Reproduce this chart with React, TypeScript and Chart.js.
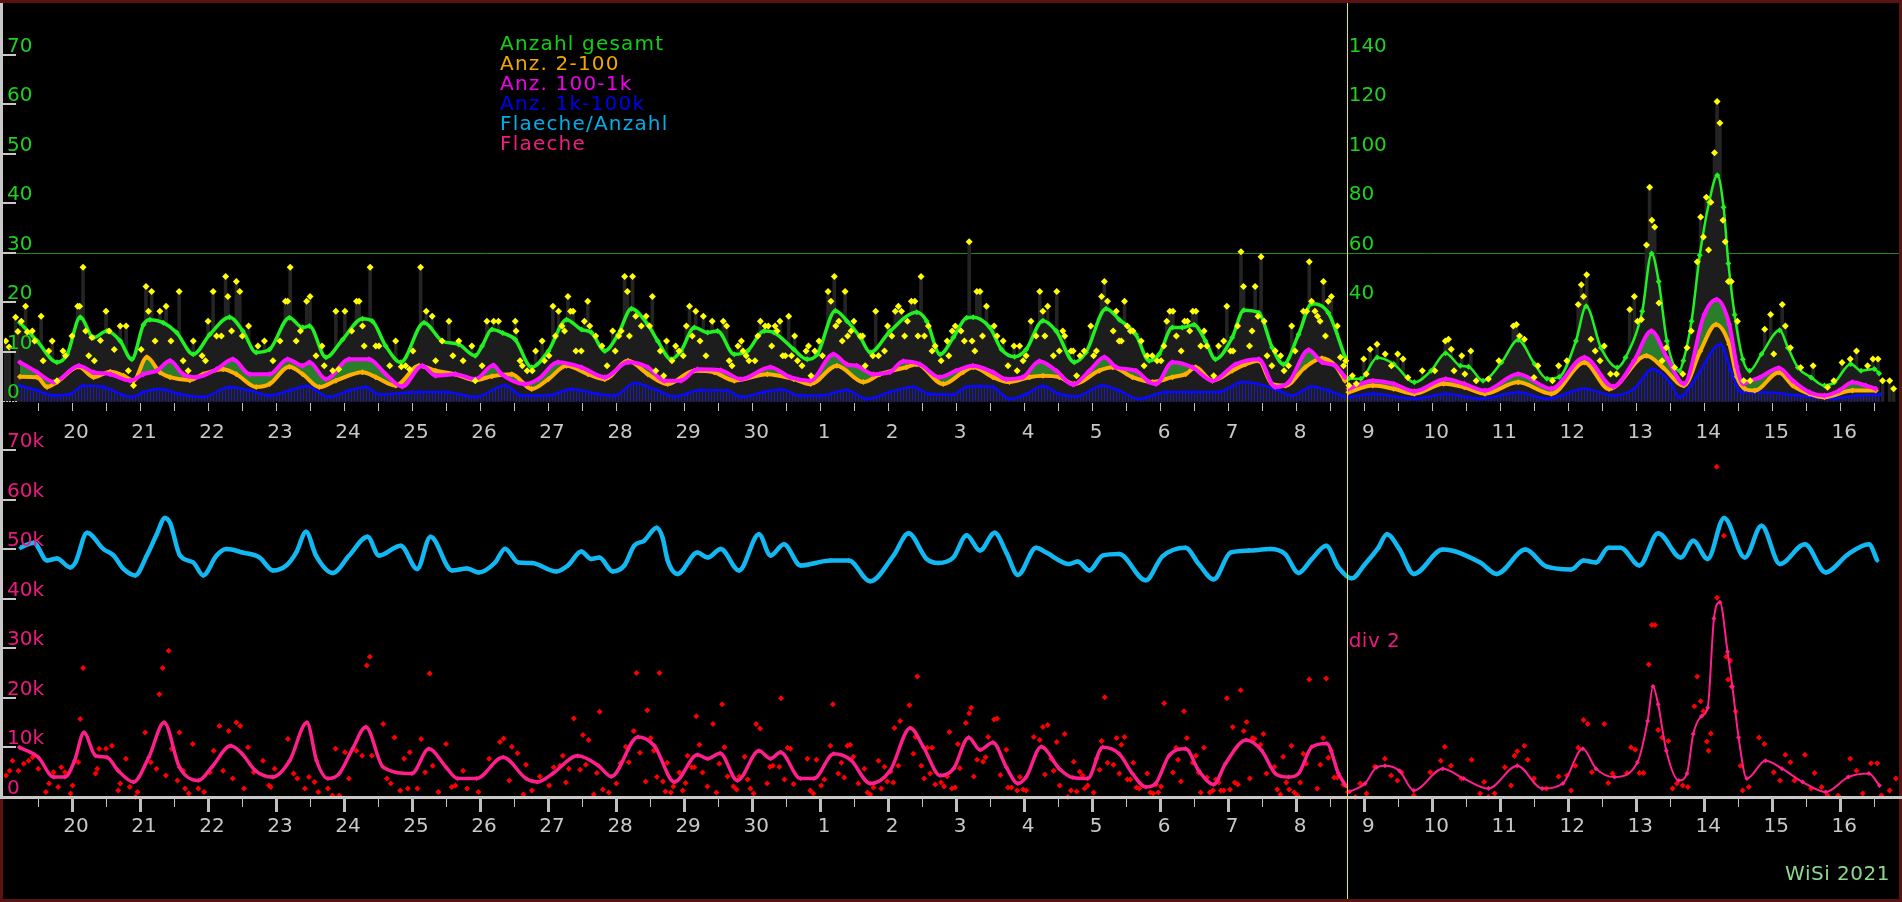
import React, { useEffect, useRef } from "react";
import { Chart, registerables } from "chart.js";

Chart.register(...registerables);

type P = [number, number];

// x values are hours since the 19th 00:00
const dayLabels = ["20","21","22","23","24","25","26","27","28","29","30","1","2","3","4","5","6","7","8","9","10","11","12","13","14","15","16"];
const splitHour = 473.8;
const leftTopTicks = [0, 10, 20, 30, 40, 50, 60, 70];
const rightTopTicks = [40, 60, 80, 100, 120, 140];
const bottomTicks = [0, 10, 20, 30, 40, 50, 60, 70];
const legendItems: [string, string][] = [
  ["Anzahl gesamt", "#10d010"],
  ["Anz. 2-100", "#f0a800"],
  ["Anz. 100-1k", "#ee00ee"],
  ["Anz. 1k-100k", "#0000f0"],
  ["Flaeche/Anzahl", "#00aeea"],
  ["Flaeche", "#f01e7e"],
];

// ---- Anzahl gesamt (smoothed) ----
const totalLeft: P[] = [[5.6,15.9],[11.7,12.2],[18.7,7.9],[22.3,9.5],[26.9,17],[31.6,12.9],[36.3,14.2],[41,12.2],[45.1,8.5],[49.2,15.5],[51.5,16.5],[56.2,15.9],[60.9,13.9],[66.8,9.5],[72.6,13.5],[79.6,17],[84.3,14.2],[89,9.9],[93.7,10.5],[100.7,16.9],[105.4,14.9],[107.8,15.2],[113.6,8.9],[119.5,12.5],[126.5,16.7],[130,16.2],[134.7,11.2],[140,7.9],[148.2,15.9],[154.6,12.2],[160.5,11.5],[166.3,9.2],[168.7,11.2],[172.2,14.5],[176,13.8],[180.4,12.5],[186.2,6.9],[192.1,10.2],[198.5,16.5],[203.8,14.5],[207.3,13.9],[212,10.2],[216.7,13.5],[221.4,18.7],[227.2,15.5],[230.7,12.2],[235.4,8.5],[238.9,10.2],[243.6,14.9],[248.3,13.9],[251.8,14.2],[257.7,9.5],[262.4,10.2],[268.2,14.2],[271.7,13.9],[278.7,10.5],[283.4,8.5],[287,9.5],[293.4,18.3],[297.5,16.2],[302.2,12.9],[305.7,9.9],[312.7,14.2],[322.1,18],[325.6,16.2],[330.3,9.5],[335,12.9],[339.7,16.9],[342,17],[347.9,14.9],[352,10.5],[356.6,9],[360.7,10.5],[366.6,16.3],[371.3,14.2],[377.7,7.9],[381.8,9.9],[388.9,18.7],[393.6,16.5],[399.4,13.5],[404.1,8.2],[407.6,9.5],[412.3,14.9],[415.8,14.9],[419.9,15.5],[424,12.2],[427.5,8.5],[433.4,12.9],[437.5,18.4],[442.8,17.9],[447.5,10.9],[451.5,7.5],[456.8,13.5],[461.5,19.7],[467.3,17.9],[473.2,9]];
const totalRight: P[] = [[474.4,9.2],[478.8,9.2],[484.6,17.7],[490.4,15.1],[497.7,7.7],[503.6,12.4],[508.7,19.5],[513.9,14.4],[516.8,14],[521.9,8.4],[528.4,15.7],[534.3,24.8],[540.1,15.1],[544.5,9.2],[548.8,9.9],[554.7,24.4],[558.3,38.4],[563.5,21.7],[569.3,13.7],[572.2,17.7],[578.1,36.4],[581.4,59.7],[583.9,48.4],[586.8,24.4],[591.2,12.4],[592.6,16.4],[595.5,32.4],[598.4,59],[601.7,80.4],[604.6,91.3],[606.8,78.4],[608.5,55.7],[610.7,35],[613.6,17],[616,12.4],[620.2,19.1],[626.6,28.7],[629.5,21.7],[633,13.7],[637.7,9.7],[642.4,6.4],[645.9,7.7],[651.7,15.1],[655.3,12.4],[660,13.1],[661.7,11.3]];

// ---- Anz. 2-100 ----
const a2Left: P[] = [[5.6,5],[11.7,4.9],[15.2,2.9],[18.7,3.9],[26.4,7],[31.6,4.9],[37.5,6],[42.2,5.2],[45.7,4.2],[50.4,8.9],[55,5.9],[58.6,4.9],[65.6,4.3],[70.3,5.5],[77.3,6.5],[82,5.5],[89,2.9],[93.7,3.5],[100.7,7],[105.4,5.5],[111.3,2.9],[117.1,4.2],[126.5,5.9],[131.2,4.9],[138.2,3.2],[146.4,7.2],[152.3,6.2],[159.3,5.5],[166.3,4.3],[172.2,5.1],[179.2,5.5],[186.2,2.5],[192.1,4.5],[198.5,7.2],[206.1,5.5],[212,4.5],[220.2,8.2],[227.2,5.5],[234.2,3.5],[243.6,6.2],[250.6,5.9],[257.7,4.2],[269.4,5.5],[278.7,4.5],[284.6,3.5],[293.9,7.2],[303.3,3.9],[309.1,5.5],[318.5,6.9],[322.1,7.5],[331.4,3.5],[338.4,5.9],[342,6.9],[349,4.9],[354.8,3.9],[361.9,4.9],[366.6,5.2],[372.4,4.9],[377.7,3.5],[386.5,6.2],[391.2,6.9],[398.2,4.9],[405.2,3.9],[412.3,4.9],[417,5.5],[420.5,6.9],[426.4,4.2],[433.4,6.2],[438.1,7.5],[442.8,8.2],[447.5,3.5],[452.2,3.2],[459.2,6.9],[465.1,8.7],[469.8,7.2],[473.2,4.2]];
const a2Right: P[] = [[474.4,3.7],[483,6.4],[490.4,5.1],[497.7,3.1],[508,7.1],[515.3,5.7],[522.6,3.1],[534.3,7.7],[546,3.1],[557.7,15.7],[566.4,5],[579.6,18.4],[585.4,13.7],[592.8,6.4],[598.6,20.4],[604.1,31.1],[608.8,23.1],[611.5,10],[614.3,5.1],[617.8,4.4],[626.3,11.7],[631.2,6.4],[637.1,3.1],[642.4,1.7],[652.3,4.4],[660.5,4.4]];

// ---- Anz. 100-1k ----
const a100Left: P[] = [[5.6,7.9],[11.7,5.9],[17.6,3.9],[26.4,7.2],[31.6,5.9],[37.5,5.5],[44.5,4.2],[49.2,5.5],[53.9,6.2],[58.6,8.2],[63.2,5.5],[67.9,4.9],[75,6.5],[80.8,8.5],[86.7,5.5],[93.7,5.5],[100.1,8.5],[105.4,7.2],[107.8,7.9],[113.6,4.5],[121.8,8.5],[128.8,8.5],[134.7,5.5],[140.5,3],[147.6,7.2],[152.3,5.2],[159.3,5.5],[166.3,4.5],[172.7,7.3],[175.6,5.5],[183.8,3.5],[188.5,4.5],[195.5,7.9],[203.7,6.9],[212,4.9],[220.2,7.9],[227.2,6.9],[233,4.2],[238.9,4.2],[244.7,6.5],[252.9,6.3],[260,4.5],[270.4,6.9],[277.4,4.9],[284.5,4.2],[292.7,9.5],[297.4,7.5],[300.9,7.2],[306.8,5.5],[312.6,5.9],[317.3,8.1],[323.2,7.5],[330.2,4.9],[336,6.2],[341.9,7.2],[349,5.9],[353.7,4.5],[359.5,4.9],[365.4,8.1],[371.3,6.2],[377.2,3.4],[383,6.2],[388.3,8.9],[392.5,6.9],[399.4,6.2],[404.1,3.9],[406.5,3.5],[412.3,7.9],[419.3,6.9],[426.4,4.2],[434.6,7.5],[442.8,8.5],[448.6,2.9],[453.4,3.9],[460.4,10.4],[465.1,7.9],[469.8,7.2],[473.2,4.9]];
const a100Right: P[] = [[474.4,5.1],[483,8.4],[490.4,7.1],[497.7,4.1],[508.7,9.1],[515.3,7.1],[522.6,4.4],[534.3,11.1],[546,5.1],[557.7,17.7],[567.9,6],[575.2,16.4],[581.3,28.4],[586.8,17.7],[592.8,7.1],[600,35.1],[604.4,41.1],[608.8,31.1],[611.5,14],[613.7,7.1],[614.9,7.7],[619.6,9.7],[626.3,13.5],[631.2,8.4],[637.1,3.7],[642.4,2.4],[647.6,4.4],[652.3,7.7],[657,6.4],[660.5,5.1]];

// ---- Anz. 1k-100k ----
const a1kLeft: P[] = [[5.6,3.2],[11.7,2.2],[17.6,1.2],[23.4,1.5],[28.1,3.2],[35.1,2.9],[45.1,0.9],[49.2,1.9],[55,2.5],[62.1,1.5],[70.3,0.9],[79.6,2.9],[86.7,2.2],[93.7,1.2],[100.7,2.2],[106.6,3.1],[114.8,0.9],[121.8,2.2],[127.7,2.9],[132.3,1.4],[146.4,1.9],[155.8,1.9],[166.3,0.9],[176.8,3.2],[182.7,1.2],[192.1,1.2],[200.3,2.5],[209.7,1.5],[215.5,1.2],[222.5,3.7],[230.7,2.2],[236.6,1],[246,2.3],[255.4,2.2],[260,0.9],[268.2,1.9],[274.1,2.4],[281.1,1.2],[288.2,1.2],[297.4,2.3],[304.4,0.5],[312.6,1.9],[320.8,2.9],[326.6,1.5],[334.8,1.4],[339.5,2.9],[344.3,3.1],[349,2.9],[354.8,0.5],[360.7,1.5],[366.6,3.1],[372.4,1.5],[378.3,1],[387.6,3.2],[393.5,2.2],[400.5,0.5],[409.9,1.9],[419.3,1.9],[428.6,1.9],[436.9,3.9],[442.8,3.5],[449.8,2.2],[454.5,1.2],[461.6,3],[467.4,2.2],[473.2,0.9]];
const a1kRight: P[] = [[474.4,1.7],[483,3.1],[497.7,1.1],[508.7,3.1],[521.1,1.1],[534.3,3.7],[544.5,1.1],[557.7,5.1],[567.9,2.4],[575.2,5.1],[581.7,13.1],[588.3,7.1],[591.2,1.7],[597.1,9.7],[605.7,23.1],[609.4,12.4],[613,3.7],[621.2,3.7],[633,2.4],[644.7,1.1],[654.1,2.4],[662.3,2.8]];

// ---- Anzahl gesamt (raw hourly) ----
const rawLeft: P[] = [[0.6,12.2],[1.8,11],[4.1,17],[4.9,14.1],[6.1,16.2],[7.6,19.2],[8.2,14],[10,14.2],[10.8,12.2],[13.1,17.2],[13.8,8.2],[15.8,10.2],[17,12.2],[18.7,4.2],[20.8,10.2],[21.7,9.2],[24,13.2],[26,19.2],[26.7,19.2],[27.9,27.1],[28.8,14.2],[29.9,9.2],[31,12.9],[31.9,8.2],[34,12.3],[36,18.2],[37.1,14.2],[38.9,10.5],[41,15.2],[43.1,15.2],[43.9,6.2],[45.7,3.2],[48.4,10.5],[50.1,23.2],[51,18.2],[52.1,22.2],[53.3,12.2],[55,18.2],[57.2,19.2],[58.9,12.2],[61.8,22.2],[63.2,8.2],[65,6.2],[66.8,12.2],[69.9,9.2],[71.1,8.2],[72,16.2],[73.8,22.2],[75,13.2],[76.7,13.2],[78.2,25.2],[79,21.2],[80.3,14.2],[82,24.2],[83.2,22.2],[84.1,13.2],[86.3,15.2],[89.6,11.2],[91.9,12.2],[94.9,8.2],[97.4,12.2],[99.3,20.2],[100.1,20.2],[101,27.1],[103.1,12.2],[104.6,14.2],[106.8,20.2],[108,21.2],[110.1,9.2],[112.2,11.2],[113,7.2],[116,6.2],[117.1,18.2],[118.1,6.5],[120.3,18.2],[122.7,14.2],[124.4,20.2],[125.3,20.2],[126.5,15.2],[127.1,11.2],[129.2,27.1],[131.2,11.2],[132.3,11.2],[136.1,7.2],[138.2,12.2],[140.2,7],[141.7,7.2],[143.1,6.5],[144.3,10.2],[147,27.1],[149,18.2],[151.1,17.2],[152.3,8.2],[154.6,12.2],[157,16.2],[158.4,9.2],[160.5,12.2],[162,8.2],[165.1,11.2],[166.3,4.2],[168.7,7.2],[170.4,16.2],[172.8,16.2],[174.5,16.2],[180.4,16.2],[180.7,14.2],[182.1,8.2],[182.9,7.2],[184.6,6.2],[186.4,6.2],[187.6,10.2],[189.9,12.2],[190.7,8.2],[192.3,9.2],[193.7,19.2],[194.6,13.2],[195.7,18.2],[196.9,15.2],[197.8,14.2],[199,21.2],[199.9,18.2],[200.8,18.2],[201.8,10.2],[203.7,10.2],[204.8,16.2],[206,20.2],[206.7,15.2],[208.8,13.2],[211,11.2],[212.8,7.2],[214.8,14.2],[215.7,10.2],[216.9,13.2],[217.8,14.2],[219,25.2],[220,22.2],[220.7,13.2],[221.8,25.2],[222.9,17.2],[224.9,15.2],[226.6,17.2],[227.8,15.2],[228.8,21.2],[230,6.2],[231.6,10.2],[232.8,5.2],[233.8,12.2],[235.7,8.2],[237,11.2],[238.2,10.2],[239.7,9.2],[240.8,15.2],[241.9,19.2],[242.9,13.2],[244.1,18.2],[245.6,12.2],[246.8,17.2],[247.7,9.2],[249.9,16.2],[253.8,16.2],[255,15.2],[255.9,8.2],[256.9,7.2],[259,11.2],[260.2,12.2],[260.8,10.2],[261.9,9.2],[262.9,8.2],[265,8.2],[266,13.2],[266.9,16.2],[268.6,15.2],[269.7,15.2],[270.9,11.2],[272.1,15.2],[272.8,14.2],[273.8,16.2],[274.8,9.2],[275.7,9.2],[276.9,17.2],[277.9,9.2],[279,13.2],[280,8.2],[281.6,7.2],[283,10.2],[283.9,11.2],[284.8,5.2],[286.1,10.2],[287.6,12.2],[288.8,9.2],[290.8,22.2],[291.8,20.2],[293,25.2],[293.5,15.2],[294.6,16.2],[295.8,12.2],[296.8,22.2],[297.7,13.2],[298.9,14.2],[299.9,16.2],[302.2,13.2],[303,13.2],[303.9,7.2],[306.6,9.2],[307.6,18.2],[308.6,9.2],[310.7,10.2],[311.8,15.2],[313.3,13.2],[314.5,18.2],[315.6,19.2],[316.7,18.2],[317.8,13.2],[318.8,16.2],[320.2,20.2],[321.4,20.2],[322.5,13.2],[323.6,25.2],[324.8,13.2],[326.2,15.2],[327.5,10.2],[328.6,11.2],[330.7,8.2],[332.8,12.2],[333.4,9.2],[334.6,14.2],[335.7,15.2],[337.7,14.2],[338.9,12.2],[340.6,32.2],[341.6,12.2],[342.6,10.2],[343.3,22.2],[344.4,22.2],[345.3,13.2],[346.7,19.2],[349.4,15.2],[350.4,13.2],[352.6,12.2],[354.3,7.2],[356.4,11.2],[357.5,6.2],[358.4,11.2],[359.6,8.2],[360.7,9.2],[362.4,16.2],[364.2,13.2],[365.5,22.2],[366.6,18.2],[367.3,13.2],[368.3,19.2],[370.3,9.2],[371.5,22.2],[372.4,10.2],[373.6,14.2],[374.3,13.2],[376.5,10.2],[377.3,10.2],[378.5,5.2],[379.7,9.2],[381.2,10.2],[383.5,15.2],[384.5,9.2],[385.5,10.2],[387.3,21.2],[388.3,24.2],[389.4,20.2],[391.4,14.2],[392.5,18.2],[393.5,12.2],[394.3,12.2],[395.4,20.2],[396.4,15.2],[397.5,14.2],[398.4,14.2],[401.3,12.2],[402.3,7.2],[403.4,9.2],[405.2,9.2],[406.9,8.2],[408.3,8.2],[409.3,11.2],[410.3,16.2],[411.4,18.2],[412.5,18.2],[413.7,13.2],[415.4,10.2],[416.6,16.2],[417.6,16.2],[418.4,14.2],[419.5,18.2],[420.6,18.2],[422.3,11.2],[423.5,14.2],[424.5,11.2],[426.9,5.2],[428.6,11.2],[430.4,12.2],[431.5,19.2],[432.8,10.2],[433.7,10.2],[435.3,15.2],[436.5,30.2],[437.4,23.2],[439.5,11.2],[440.4,14.2],[441.5,23.2],[442.5,17.2],[443.6,29.2],[444.7,16.2],[445.7,9.2],[447.4,7.2],[448.6,10.2],[450.5,9.2],[451.7,6.2],[453.3,7.2],[454.4,15.2],[455.6,10.2],[458.5,18.2],[459.7,18.2],[460.6,28.2],[461.4,20.2],[462.6,18.2],[463.5,17.2],[464.4,16.2],[465.6,24.2],[466.3,13.2],[467.3,20.2],[468.4,21.2],[470.5,15.2],[471.6,8.9],[472.7,7.2],[473.5,8.2]];
const rawRight: P[] = [[474.6,6.4],[475.8,10.4],[477.2,7.1],[479.8,17.1],[480.7,11.1],[482.1,21.1],[484.5,23.1],[487.4,19.1],[489.6,14.4],[491.8,19.1],[493.7,17.1],[495.4,9.7],[500.5,12.4],[504.9,12.4],[508.6,24.4],[509.7,25.1],[510.7,21.1],[511.7,12.4],[514.4,18.4],[515.5,11.1],[517.6,20.4],[519.5,8.4],[523.8,9.1],[527.5,16.4],[532.6,30.4],[533.7,31.1],[534.8,26.4],[536.5,25.1],[539.9,9.7],[541.3,14.4],[546.4,8.4],[548.6,14.4],[551.5,16.4],[555.5,39.1],[556.6,47.1],[557.4,42.4],[558.5,51.1],[560,25.1],[561.5,20.4],[563.2,16.4],[564.7,22.4],[566.9,11.1],[569,11.1],[573.7,37.1],[575.3,42.4],[576.4,32.4],[577.8,33.1],[579.6,63.1],[580.7,86.4],[581.5,73.1],[582.5,70.4],[584,39.7],[585.1,16.4],[586.6,21.7],[589.5,13.7],[592.4,11.1],[593.9,21.7],[595.4,28.4],[597.5,56.4],[598.7,74.4],[599.7,66.4],[600.7,82.4],[601.5,61.1],[602.3,80.4],[603.6,100.4],[604.5,121.1],[605.5,112.4],[606.6,73.1],[607.4,64.4],[608.5,48.4],[609.5,48.4],[611.7,32.4],[613.9,8.4],[616.2,8.4],[621.3,29.1],[623.4,35.1],[624.5,19.1],[627.5,39.1],[628.6,30.4],[630.4,21.7],[634,13.7],[638.4,14.4],[643.5,5.7],[645.7,8.4],[648.6,15.7],[651.5,17.1],[653.7,20.4],[657.6,14.4],[659.5,17.1],[661.3,17.1],[662.9,8.4],[665.4,8.4],[666.8,5.1]];

// ---- Flaeche/Anzahl (thousands) ----
const areaPerCount: P[] = [[5.9,50.3],[10.5,51.3],[15.2,47.7],[18.7,48.1],[23.4,46.3],[25.2,47.3],[29.3,53.3],[35.1,50],[38.7,48.7],[42.2,46],[46.3,44.7],[50.4,48.7],[53.9,53],[56.8,56.3],[58.6,55.3],[62.1,48.7],[66.8,47.3],[70.3,44.7],[75,48.7],[78.5,50],[84.3,49.3],[90.2,48.3],[94.9,45.7],[99.6,46.7],[103.1,49.3],[106.6,53.5],[110.1,48.7],[116,45.2],[121.8,48.7],[128.3,52.5],[132.3,48.7],[140,50.7],[145.8,46],[150.5,52.5],[158.1,45.7],[163.4,46.1],[167.5,45.3],[173.3,47.3],[176.8,50.1],[181.5,47.3],[186.2,47.2],[194.9,45.5],[199,46.7],[203.7,49.5],[207.2,48],[210.1,48.3],[214.8,45.5],[218.9,46.7],[222.4,50.7],[225.9,51.7],[230.3,54.3],[232.4,52.3],[234.2,47.7],[237.7,45],[244.7,49.3],[248.3,48.3],[252.9,50],[259.4,45.7],[266.4,53],[270.5,48.7],[275.2,51],[281.1,46.7],[291.7,47.7],[298.1,47.7],[305.7,43.5],[313.9,48.7],[319.2,53.2],[325.6,48],[329.7,47.2],[335,48.3],[339.7,52.8],[344.4,49.7],[349.6,53.3],[353.7,49.3],[357.8,44.8],[364.2,50.3],[367.8,49.3],[375.9,47],[378.9,47.5],[383,45.7],[387.7,48.7],[393.5,49],[402.9,43.7],[408.7,48.5],[416.9,50.3],[421.6,47],[426.9,43.9],[432.8,49.3],[439.2,49.7],[446.8,50],[452.1,49],[456.8,45.2],[461.5,48],[466.6,50.7],[470.9,46.3],[475.6,44.1],[480.3,47],[485,50.3],[488,53],[492.4,50],[497.5,45],[507.7,49.9],[520.9,47.3],[526.7,45],[536.9,49.9],[544.2,46.5],[553,45.9],[557.4,47.7],[561.8,47.3],[566.1,50.3],[570.5,50.3],[577.1,46.7],[583.7,53.2],[591.7,48.3],[596.1,51.7],[601.2,48],[607,56.3],[614.3,48.3],[620.2,54.7],[626.7,47],[635.5,51],[642.8,45.3],[650.8,49],[658.1,51],[661,47.7]];

// ---- Flaeche smoothed (thousands); right part shown div 2 ----
const areaLeft: P[] = [[5.4,10],[12.1,8],[17.5,4],[21.5,4],[24.9,7.3],[28.2,13],[32.3,8.3],[36.3,8],[40.3,5.3],[45.7,3],[51.1,8],[56.5,15],[61.9,6],[68.6,3.3],[73.3,6],[80,10.3],[84,8.7],[88.7,5.3],[94.8,4],[100.8,7.3],[106.9,15],[110.3,7.3],[114.3,3.7],[118.3,4.7],[123,9.7],[127.7,14.1],[133.8,6],[143.9,4.7],[149.9,9.7],[156,6],[160,3.7],[166.7,3.7],[176.1,8],[184.2,3.7],[188.2,3],[193.6,4.7],[202.4,8.3],[209.8,6.3],[214.3,4.1],[223.7,12.1],[229.5,10.3],[236.6,3],[244.7,8.5],[248.3,7.7],[252.7,8.8],[258.8,3.3],[266.4,9.3],[270.5,7.7],[274,9],[281.1,3.7],[285.8,3.7],[292.8,8.7],[298.7,7.5],[305.7,2.7],[312.7,5.3],[319.8,13.9],[324.5,10],[330.4,4.3],[335.1,5.7],[340.4,12],[344.4,9.5],[349,11],[353.7,6],[357.8,2.7],[360.7,4],[366,10.1],[372.4,5.7],[377.1,3.9],[382.4,3.7],[387.7,10],[393.5,8.7],[398.2,4.7],[402.9,2],[406.4,2.7],[411.1,8.3],[417,9.7],[421.6,5.3],[426.9,2.5],[431,6.7],[438.3,11.5],[443.9,9.3],[448.6,4.7],[453.3,4],[456.8,4.7],[461.5,10.1],[466.8,10.8],[470.9,4.7],[473.6,2.2]];
const areaRightDiv2: P[] = [[474.9,1.1],[480.3,2.7],[484.4,6],[487.3,6.3],[492.4,5.3],[497.5,1.3],[507.7,5.7],[515.1,3.7],[523.8,1.7],[534,6.3],[542.8,1.7],[550.1,2.7],[557.1,9.7],[561.8,5.7],[568.3,4],[576.4,7],[580,15.3],[581.9,22.3],[583.7,18.7],[586.6,9.3],[591,3.3],[593.9,4.7],[596.1,12.7],[599,16.3],[601.2,18],[603.4,36],[605.5,39.3],[608.2,29.3],[609.9,22.3],[612.1,12],[615,3.7],[621.6,7.3],[627.4,5.7],[634.7,3],[642.8,1],[650.8,4],[658.1,4.7],[661.8,2.3]];

// ---- Flaeche raw (thousands); right part div 2 ----
const areaRawLeft: P[] = [[0.7,4.3],[2,5.3],[3,7.3],[5.1,5.3],[7,6.7],[8.7,7.3],[10.1,8],[12.1,5.7],[14.8,1],[15.9,2.7],[17.5,5],[19.1,2],[20.2,6],[21.5,5],[23.5,0.7],[24.2,2.3],[26.2,7],[26.9,15.7],[27.9,26],[32.3,4.7],[32.9,5.7],[33.6,9.7],[36,9.7],[38.1,10.3],[40.3,1.3],[41,2.7],[43,7.7],[44.4,2],[46.4,0],[47.1,1],[49.8,13],[51.8,7],[53.8,5.7],[54.8,20.7],[56,26],[57.1,4.3],[58.1,29.5],[59.2,9.7],[61.2,3.3],[61.9,13],[63.2,5.3],[63.9,1.7],[65.2,0.7],[66.6,10.7],[68.6,1.7],[70.6,1],[72.6,5],[74,9.3],[76,14.3],[77.3,5.3],[79.3,13.3],[80.7,3.7],[82,15],[83.4,14.3],[84.7,1.7],[86.1,10],[88.1,5],[91.4,7.3],[93.5,2.3],[94.1,2],[95.5,5.7],[100.2,11.7],[102.2,4.7],[103.5,3.7],[106.2,1.7],[107.6,4],[109.6,3],[110.9,1],[114.3,1.7],[115.9,0.3],[117,9.7],[118.3,0.3],[120.3,9],[121.7,3.7],[124.4,9.3],[126.4,8.3],[128,26.5],[129.1,28.3],[129.8,8.3],[133.8,14.7],[135.1,3.7],[136.5,2.7],[137.8,12],[139.8,1.3],[141.2,7.7],[142.5,1.7],[143.2,9],[145.9,1.7],[147.2,11.7],[148.6,5],[150.2,24.9],[151.3,6.3],[153.3,1],[156,10.7],[158,2],[159.3,2.3],[162,5.3],[163.4,1.7],[167.4,1],[171.2,7.7],[175,11.1],[176.3,11.8],[178.3,3.3],[179.2,10.1],[181.2,8.8],[183.3,0.5],[184.2,6.5],[186.3,1.3],[189.1,4.1],[192.4,2.3],[194,6],[196.2,6.3],[197.2,8.3],[198.3,2.9],[199.3,5.7],[201.1,15.8],[203.3,5.5],[204.3,12.5],[205.3,6.5],[206.3,11.5],[208.1,0.5],[209.2,4.8],[210.2,17.2],[211.3,1.5],[213.4,0.9],[216.1,2.7],[217.5,6.8],[219.4,10.1],[220.5,7],[222.2,13.3],[223.2,25],[224.4,8.9],[226.4,3.1],[227,17.5],[228.2,11.9],[229.3,9.3],[230.4,4],[231.3,25],[232.5,3.1],[233.4,1.1],[234,6.9],[235.3,0.9],[236.2,2.1],[238.3,4.9],[239.5,1.3],[240.5,2.8],[241.2,8.3],[242.7,6],[243.6,6],[244.3,16.3],[245.4,10.5],[246.5,4.9],[248.2,2.1],[250.2,14.7],[251.4,0.9],[252.4,6.7],[253.4,18.7],[254.2,10],[255.3,4.1],[257.4,2.1],[258.5,1.5],[259.5,4.1],[261.3,8.1],[262.4,3.5],[263.4,1.7],[264.5,0.7],[265.4,14.7],[266.8,13.8],[269.3,2.7],[270.3,6.1],[271.3,6.3],[273.6,6.1],[274.2,19.9],[275.4,3.5],[276.5,9.9],[277.5,9.7],[278.6,2.6],[283.5,7.7],[284.5,1.3],[285.6,0.7],[286.7,7.5],[288.4,2.3],[289.5,3.5],[291.6,10.3],[292.5,18.7],[294.4,4.7],[295.5,6.9],[296.5,3.9],[297.6,10.3],[298.6,10.5],[299.7,8.1],[301.5,2.7],[303.6,5.7],[304.7,0.9],[305.7,0.5],[306.8,1.9],[308.6,7.3],[309.6,1.7],[310.7,6.1],[311.7,3.1],[312.8,5.1],[313.8,2.9],[314.2,13.9],[315.6,6.3],[316.2,15.3],[319.5,18.5],[320.9,8.7],[321.6,12.1],[322.3,24.3],[323.7,6.3],[324.7,3.7],[325.8,9.9],[326.8,4.7],[327.5,9.9],[328.6,2.5],[330.7,2.9],[331.7,2.1],[332.8,4.1],[333.6,13.1],[334.5,1.7],[335.6,1.9],[336.6,10.7],[337.3,5.8],[339.4,14.9],[340.6,16.9],[341.3,18],[342.2,4.1],[343.4,7.5],[345.5,7.1],[346.4,8],[347.3,12.1],[349.4,15.6],[350.4,15.8],[351.6,4.4],[353.7,9.5],[354.3,1.9],[355.5,1.9],[357.5,1.3],[358.5,4],[359.6,1.5],[360.7,1.3],[363.4,12.1],[365.5,11.5],[366.6,14.1],[367.3,4.5],[368.3,14.5],[369.5,7.7],[370.4,5.3],[371.5,11.1],[372.5,2.3],[374.3,12.7],[375.4,0],[376.5,1.3],[377.5,7.1],[378.5,1.1],[379.6,5.1],[380.6,4.3],[381.3,1.7],[382.4,2.3],[384.5,0.9],[385.5,7.7],[386.6,5.5],[387.3,11.3],[388.4,20.1],[389.4,6.9],[391.5,6.5],[392.6,11.9],[393.6,4.7],[394.3,10.5],[395.4,12.1],[396.4,3.5],[397.5,3.5],[398.5,6.9],[399.6,1.9],[400.6,1.7],[403.4,4.7],[404.5,0.9],[405.5,0.7],[406.5,2.5],[407.3,0.9],[408.3,2.1],[409.4,18.9],[412.5,4.9],[413.6,9.9],[414.3,7.5],[415.3,3.1],[416.4,17.3],[417.4,11.9],[419.5,6.9],[420.6,8.3],[421.6,4.9],[422.3,0.9],[423.4,9.9],[424.5,3.9],[425.5,0.9],[426.6,1.3],[427.6,3.5],[428.7,2.9],[429.4,1.3],[430.4,1.3],[431.5,19.9],[432.6,1.5],[433.6,14.1],[434.3,2.9],[435.4,2.5],[436.4,21.5],[437.5,13.3],[438.5,15.1],[439.6,3.7],[440.6,11.9],[441.3,11.7],[443.4,10.5],[444.4,12.7],[445.5,4.7],[448.3,6.1],[449.3,1.5],[450.4,0.5],[451.4,8.1],[452.5,2.9],[453.5,1.5],[454.3,10.3],[455.3,0.9],[456.4,0.3],[457.4,2.9],[458.5,8.7],[459.5,6.7],[460.6,23.7],[463.4,1.7],[464.5,6.5],[465.5,11.9],[466.6,23.9],[467.3,7.9],[468.3,9.3],[469.4,3.9],[470.5,3.9],[472.6,2.5]];
const areaRawRightDiv2: P[] = [[474.2,1],[476.8,0],[478.6,2.7],[480.8,0.7],[483.7,6.1],[487.3,7.7],[489.5,4.3],[491.7,3.3],[493.2,4.9],[497.5,0.3],[503.3,5],[507,7.3],[508.4,10.1],[510.6,6.3],[514.3,3.7],[517.9,7.5],[520.9,0.7],[522.3,3],[523.8,0],[526,0.7],[529.6,6],[531.8,2.3],[533,8.3],[534,9.2],[536.5,10.3],[537.7,7.5],[539.9,3.7],[544.3,1.7],[548.6,4.1],[551.5,4.3],[553,1.3],[554.5,6.3],[555.5,9.9],[557.4,15.5],[558.9,14.7],[560.3,5],[564.7,14.7],[566.1,2.8],[567.6,4.7],[572.7,4.8],[574.1,10],[575.6,9.5],[577.1,4.8],[578.5,4.8],[580.4,26.7],[581.5,34.7],[582.6,34.7],[583.7,13.5],[585.1,12],[587.3,11.3],[588.8,1.7],[590.3,2.7],[592.4,2.3],[594.2,2],[596.5,18.3],[597.5,24.3],[598.7,19.3],[599.7,17.3],[600.9,11.2],[601.5,9.3],[602.3,12.8],[604.4,66.6],[604.5,40.2],[606.9,52.7],[607.7,28.3],[608.4,23.7],[609.1,27.5],[609.6,22.3],[611,17.3],[612.8,6.3],[613.5,1.3],[615.7,2],[619.3,12],[621.2,10.7],[624.5,5],[626.7,3.3],[628.6,8.5],[630.4,7],[631.8,3.3],[635.5,8.5],[637.7,1.7],[638.9,4.8],[641.4,2],[643.5,0.3],[647.2,0.3],[651.5,7.7],[653.7,5.3],[655.9,0.7],[658.8,6.8],[661,6.8],[662.5,0.3],[665.4,1.3],[667.6,3.7]];

const pts = (a: P[]) => a.map(([x, y]) => ({ x, y }));
const FONT = '20px "DejaVu Sans", sans-serif';

function smooth(data: P[], yAxisID: string, color: string, width: number, order: number, extra: any = {}) {
  return {
    type: "line",
    data: pts(data),
    yAxisID,
    borderColor: color,
    backgroundColor: color,
    borderWidth: width,
    pointRadius: 3,
    pointStyle: "rectRot",
    pointBorderWidth: 0,
    pointBackgroundColor: color,
    cubicInterpolationMode: "monotone",
    fill: false,
    order,
    ...extra,
  };
}

function scatter(data: P[], yAxisID: string, color: string, r: number, order: number) {
  return {
    type: "line",
    data: pts(data),
    yAxisID,
    showLine: false,
    borderColor: color,
    backgroundColor: color,
    pointRadius: r,
    pointStyle: "rectRot",
    pointBorderWidth: 0,
    pointBackgroundColor: color,
    order,
  };
}

function bars(data: P[], yAxisID: string, order: number) {
  return {
    type: "bar",
    data: pts(data),
    yAxisID,
    backgroundColor: "#242424",
    borderWidth: 0,
    barThickness: 3,
    grouped: false,
    order,
  };
}

const deco = {
  id: "deco",
  beforeDraw(chart: any) {
    const { ctx, width, height } = chart;
    ctx.save();
    ctx.fillStyle = "#000";
    ctx.fillRect(0, 0, width, height);
    ctx.restore();
  },
  beforeDatasetsDraw(chart: any) {
    const { ctx } = chart;
    const y = Math.round(chart.scales.yL.getPixelForValue(30)) + 0.5;
    ctx.save();
    ctx.strokeStyle = "#1e8a1e";
    ctx.lineWidth = 1;
    ctx.beginPath();
    ctx.moveTo(16, y);
    ctx.lineTo(chart.width - 3, y);
    ctx.stroke();
    ctx.restore();
  },
  afterDatasetsDraw(chart: any) {
    const { ctx, height } = chart;
    const x = Math.round(chart.scales.x.getPixelForValue(splitHour)) + 0.5;
    ctx.save();
    ctx.strokeStyle = "#f0f000";
    ctx.lineWidth = 1;
    ctx.beginPath();
    ctx.moveTo(x, 3);
    ctx.lineTo(x, height - 3);
    ctx.stroke();
    ctx.restore();
  },
  afterDraw(chart: any) {
    const { ctx, width, height } = chart;
    const xs = chart.scales.x;
    const yL = chart.scales.yL;
    const yR = chart.scales.yR;
    const yB = chart.scales.yB;
    ctx.save();
    ctx.strokeStyle = "#5a1212";
    ctx.lineWidth = 3;
    ctx.strokeRect(1.5, 1.5, width - 3, height - 3);
    const y0B = Math.round(yB.getPixelForValue(0));
    ctx.fillStyle = "#c8c8c8";
    ctx.fillRect(0, 3, 3, y0B - 1);
    ctx.fillRect(0, y0B - 1, width, 3);
    ctx.font = FONT;
    ctx.textBaseline = "alphabetic";
    for (const v of leftTopTicks) {
      const y = Math.round(yL.getPixelForValue(v));
      ctx.fillStyle = "#c8c8c8";
      if (v === 0) {
        for (let x = 0; x < 16; x += 3) ctx.fillRect(x, y, 2, 1);
      } else {
        ctx.fillRect(0, y - 1, 16, 2);
      }
      ctx.fillStyle = "#1fd01f";
      ctx.textAlign = "left";
      ctx.fillText(String(v), 7, y - 3);
    }
    const xSplit = xs.getPixelForValue(splitHour);
    for (const v of rightTopTicks) {
      const y = Math.round(yR.getPixelForValue(v));
      ctx.fillStyle = "#1fd01f";
      ctx.textAlign = "left";
      ctx.fillText(String(v), xSplit + 2, y - 3);
    }
    for (const v of bottomTicks) {
      const y = Math.round(yB.getPixelForValue(v));
      if (v !== 0) {
        ctx.fillStyle = "#c8c8c8";
        ctx.fillRect(0, y - 1, 16, 2);
      }
      ctx.fillStyle = "#ec1a80";
      ctx.textAlign = "left";
      ctx.fillText(v === 0 ? "0" : v + "k", 7, y - 3);
    }
    const y0T = Math.round(yL.getPixelForValue(0));
    ctx.fillStyle = "#c0c0c0";
    for (let h = 12; h < xs.max; h += 12) {
      const x = Math.round(xs.getPixelForValue(h));
      ctx.fillRect(x, y0T + 2, 1, 8);
    }
    for (let h = 12; h < xs.max; h += 12) {
      const x = Math.round(xs.getPixelForValue(h));
      if (h % 24 === 0) ctx.fillRect(x - 1, y0B, 3, 15);
      else ctx.fillRect(x, y0B, 1, 10);
    }
    ctx.fillStyle = "#c8c8c8";
    ctx.textAlign = "center";
    dayLabels.forEach((lab, i) => {
      const x = xs.getPixelForValue(24 * (i + 1)) + 4;
      ctx.fillText(lab, x, y0T + 37);
      ctx.fillText(lab, x, y0B + 35);
    });
    ctx.textAlign = "left";
    (ctx as any).letterSpacing = "1.2px";
    legendItems.forEach(([t, c], i) => {
      ctx.fillStyle = c;
      ctx.fillText(t, 500, 50 + 20 * i);
    });
    (ctx as any).letterSpacing = "0.5px";
    ctx.fillStyle = "#ec1a80";
    ctx.fillText("div 2", xSplit + 2, 647);
    ctx.fillStyle = "#8ed88e";
    ctx.textAlign = "right";
    ctx.fillText("WiSi 2021", 1890, 880);
    (ctx as any).letterSpacing = "0px";
    ctx.restore();
  },
};

export default function App() {
  const ref = useRef<HTMLCanvasElement>(null);
  useEffect(() => {
    document.body.style.margin = "0";
    document.body.style.background = "#000";
    document.body.style.overflow = "hidden";
    const canvas = ref.current!;
    const pc = document.createElement("canvas");
    pc.width = 3;
    pc.height = 1;
    const pctx = pc.getContext("2d")!;
    pctx.fillStyle = "#1c1cb4";
    pctx.fillRect(0, 0, 1, 1);
    const stripes = canvas.getContext("2d")!.createPattern(pc, "repeat");

    const datasets: any[] = [];
    datasets.push(bars(rawLeft, "yL", 100));
    datasets.push(bars(rawRight, "yR", 100));
    datasets.push(smooth(totalLeft, "yL", "#22f022", 3.5, 90, { fill: "origin", backgroundColor: "#1d1d1d" }));
    datasets.push(smooth(totalRight, "yR", "#22f022", 2.5, 90, { fill: "origin", backgroundColor: "#1d1d1d" }));
    datasets.push(smooth(a1kLeft, "yL", "#0a0aff", 2.5, 80, { fill: "origin", backgroundColor: stripes, pointRadius: 2.2 }));
    datasets.push(smooth(a1kRight, "yR", "#0a0aff", 2.5, 80, { fill: "origin", backgroundColor: stripes, pointRadius: 2.2 }));
    const iOL = datasets.push(smooth(a2Left, "yL", "#ffb000", 4, 75)) - 1;
    const iOR = datasets.push(smooth(a2Right, "yR", "#ffb000", 4, 75)) - 1;
    datasets.push(smooth(a100Left, "yL", "#2a7d2a", 0, 78, { pointRadius: 0, fill: { target: iOL }, backgroundColor: "#2a7d2a" }));
    datasets.push(smooth(a100Right, "yR", "#2a7d2a", 0, 78, { pointRadius: 0, fill: { target: iOR }, backgroundColor: "#2a7d2a" }));
    datasets.push(smooth(a100Left, "yL", "#ff10ff", 4, 70));
    datasets.push(smooth(a100Right, "yR", "#ff10ff", 4, 70));
    datasets.push(scatter(rawLeft, "yL", "#ffff00", 3.5, 10));
    datasets.push(scatter(rawRight, "yR", "#ffff00", 3.5, 10));
    datasets.push(smooth(areaPerCount, "yB", "#12b8f2", 4.5, 60, { pointRadius: 2.5 }));
    datasets.push(scatter(areaRawLeft, "yB", "#ff0000", 3, 55));
    datasets.push(scatter(areaRawRightDiv2, "yB", "#ff0000", 3, 55));
    datasets.push(smooth(areaLeft, "yB", "#ff1e8c", 3.5, 50, { pointRadius: 2.5 }));
    datasets.push(smooth(areaRightDiv2, "yB", "#ff1e8c", 2, 50, { pointRadius: 2.5 }));

    const chart = new Chart(canvas, {
      type: "line",
      data: { datasets },
      options: {
        animation: false,
        responsive: false,
        devicePixelRatio: 1,
        events: [],
        layout: { padding: 0 },
        plugins: { legend: { display: false }, tooltip: { enabled: false } },
        scales: {
          x: { type: "linear", min: 0, max: 668.35, display: false, offset: false },
          yL: { type: "linear", min: -100.2, max: 80.2, display: false },
          yR: { type: "linear", min: -200.4, max: 160.4, display: false },
          yB: { type: "linear", min: -20.4, max: 160, display: false },
        },
      } as any,
      plugins: [deco as any],
    } as any);
    return () => chart.destroy();
  }, []);
  return <canvas ref={ref} width={1902} height={902} style={{ display: "block", width: 1902, height: 902 }} />;
}
